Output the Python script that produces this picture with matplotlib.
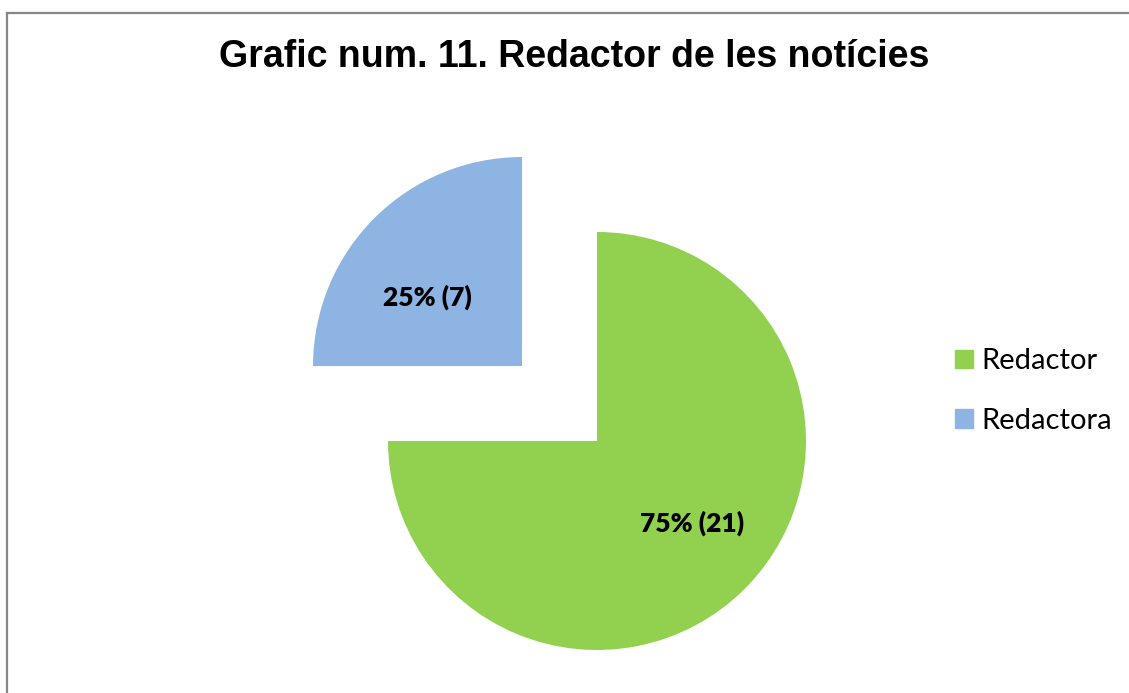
import numpy as np
import matplotlib.pyplot as plt
from matplotlib.lines import Line2D

# dades
categories = ['Redactor', 'Redactora']
valors = [21, 7]
colors = ['#92D050', '#8DB4E2']

W, H = 1129, 693
fig = plt.figure(figsize=(W / 100, H / 100), dpi=100)
ax = fig.add_axes([0, 0, 1, 1])
ax.set_xlim(0, W)
ax.set_ylim(0, H)
ax.set_aspect('equal')
ax.axis('off')

total = sum(valors)


def etiqueta(pct):
    n = int(round(pct * total / 100))
    return f'{pct:.0f}% ({n})'


wedges, textos, pcts = ax.pie(
    valors, colors=colors, startangle=90, counterclock=False,
    center=(597, H - 441), radius=209, explode=[0, 106],
    autopct=etiqueta, pctdistance=0.58,
    textprops=dict(fontsize=19, fontweight='heavy', family='Lato', color='black'),
)
ax.set_xlim(0, W)
ax.set_ylim(0, H)

# recol·locar etiquetes una mica com a l'original
ajust = [(0.60, 4), (0.56, 9)]
for w, t, (d, da) in zip(wedges, pcts, ajust):
    ang = np.deg2rad((w.theta1 + w.theta2) / 2 + da)
    cx, cy = w.center
    t.set_position((cx + d * w.r * np.cos(ang), cy + d * w.r * np.sin(ang)))

fig.text(574 / W, 1 - 57 / H, 'Grafic num. 11. Redactor de les notícies',
         ha='center', va='center', fontsize=27, fontweight='bold',
         family='Liberation Sans')

# llegenda
handles = [plt.Rectangle((0, 0), 1, 1, color=c) for c in colors]
leg = fig.legend(handles, categories, loc='center left',
                 bbox_to_anchor=(929 / W, 1 - 391 / H), frameon=False,
                 prop=dict(family='Lato', size=21), handlelength=0.6,
                 handleheight=0.6, handletextpad=0.28, labelspacing=1.15)

# vora del gràfic
fig.add_artist(Line2D([7 / W, 7 / W], [0, 1 - 13 / H], transform=fig.transFigure,
                      color='#868686', lw=1.6))
fig.add_artist(Line2D([7 / W, 1], [1 - 13 / H, 1 - 13 / H], transform=fig.transFigure,
                      color='#868686', lw=1.6))

fig.savefig('out.png', dpi=100)
